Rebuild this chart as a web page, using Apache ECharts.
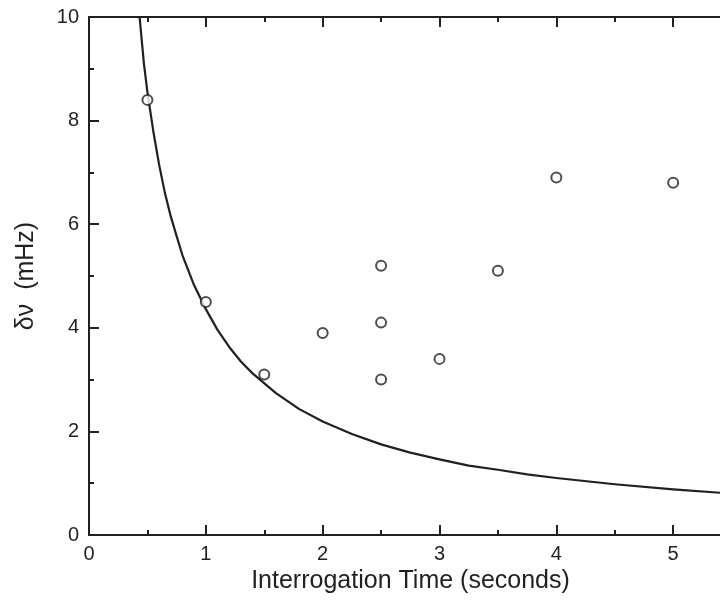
<!DOCTYPE html>
<html>
<head>
<meta charset="utf-8">
<script src="https://cdn.jsdelivr.net/npm/echarts@6/dist/echarts.min.js"></script>
<style>html,body{margin:0;padding:0;background:#fff;}#c{width:720px;height:609px;}</style>
</head>
<body>
<div id="c"></div>
<script>
// Measured points
const timeSec = [0.5, 1.0, 1.5, 2.0, 2.5, 2.5, 2.5, 3.0, 3.5, 4.0, 5.0];
const deltaNu = [8.4, 4.5, 3.1, 3.9, 5.2, 4.1, 3.0, 3.4, 5.1, 6.9, 6.8];
// Curve
const curveT = [0.433, 0.47, 0.5, 0.55, 0.6, 0.65, 0.7, 0.75, 0.8, 0.9, 1.0, 1.1, 1.2, 1.3, 1.4, 1.6, 1.8, 2.0, 2.25, 2.5, 2.75, 3.0, 3.25, 3.5, 3.75, 4.0, 4.5, 5.0, 5.5];
const curveY = [10.0, 9.1, 8.55, 7.8, 7.15, 6.6, 6.15, 5.77, 5.4, 4.82, 4.36, 3.96, 3.63, 3.35, 3.12, 2.74, 2.43, 2.19, 1.95, 1.75, 1.59, 1.46, 1.34, 1.26, 1.17, 1.10, 0.98, 0.88, 0.80];
const xTitle = 'Interrogation Time (seconds)';
const yTitle = 'δν  (mHz)';

const ink = '#231f20';
const font = 'Arial, "Liberation Sans", sans-serif';
const chart = echarts.init(document.getElementById('c'), null, {renderer: 'canvas'});
const axisCommon = {
  type: 'value',
  axisLine: {show: true, onZero: false, lineStyle: {color: ink, width: 2}},
  axisTick: {show: true, inside: true, length: 10, lineStyle: {color: ink, width: 2}},
  minorTick: {show: true, splitNumber: 2, length: 5, lineStyle: {color: ink, width: 2}},
  splitLine: {show: false},
  minorSplitLine: {show: false}
};
chart.setOption({
  animation: false,
  backgroundColor: '#fff',
  grid: {left: 89, right: -70, top: 17, bottom: 74, containLabel: false, outerBoundsMode: 'none'},
  xAxis: [
    Object.assign({}, axisCommon, {
      min: 0, max: 6, interval: 1, position: 'bottom',
      axisLabel: {color: ink, fontSize: 20, fontFamily: font, margin: 9, showMaxLabel: false},
      name: xTitle, nameLocation: 'middle', nameGap: 34,
      nameTextStyle: {color: ink, fontSize: 25, fontFamily: font, padding: [0, 58, 0, 0]}
    }),
    Object.assign({}, axisCommon, {
      min: 0, max: 6, interval: 1, position: 'top',
      axisLabel: {show: false}
    })
  ],
  yAxis: [
    Object.assign({}, axisCommon, {
      min: 0, max: 10, interval: 2, position: 'left',
      axisLabel: {color: ink, fontSize: 20, fontFamily: font, margin: 10},
      name: yTitle, nameLocation: 'middle', nameGap: 50,
      nameTextStyle: {color: ink, fontSize: 25, fontFamily: font}
    })
  ],
  series: [
    {
      type: 'line',
      data: curveT.map((t, i) => [t, curveY[i]]),
      smooth: false,
      symbol: 'none',
      lineStyle: {color: ink, width: 2.2, join: 'round'},
      z: 2
    },
    {
      type: 'scatter',
      data: timeSec.map((t, i) => [t, deltaNu[i]]),
      symbol: 'circle',
      symbolSize: 10,
      itemStyle: {color: '#fff', borderColor: ink, borderWidth: 2},
      z: 3
    }
  ]
});
</script>
</body>
</html>
